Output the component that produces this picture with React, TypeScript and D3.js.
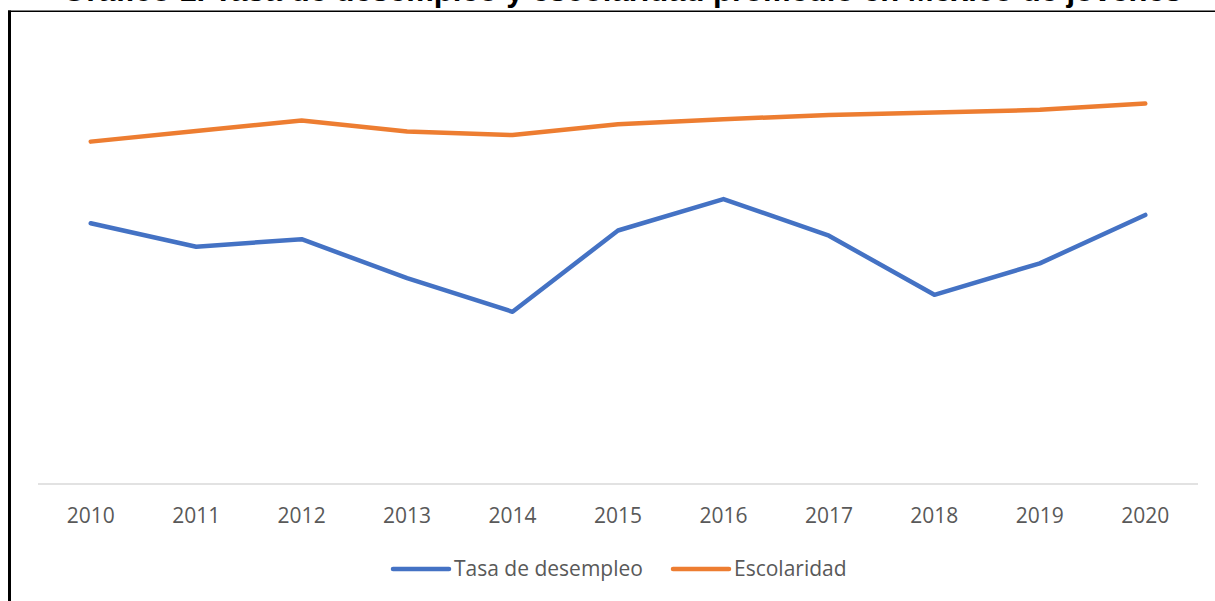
import React from "react";
import * as d3 from "d3";

const years = ["2010", "2011", "2012", "2013", "2014", "2015", "2016", "2017", "2018", "2019", "2020"];
const desempleo = [7.54, 6.86, 7.08, 5.95, 4.98, 7.33, 8.24, 7.18, 5.47, 6.38, 7.78];
const escolaridad = [9.9, 10.21, 10.51, 10.19, 10.09, 10.4, 10.55, 10.67, 10.74, 10.82, 11.0];
const seriesNames = ["Tasa de desempleo", "Escolaridad"];
const seriesColors = ["#4472C4", "#ED7D31"];
const titleText = "Gráfico 1. Tasa de desempleo y escolaridad promedio en México de jóvenes";

const W = 1215;
const H = 601;

export default function App() {
  const x = d3.scalePoint<string>().domain(years).range([38, 1198]).padding(0.5);
  const y = d3.scaleLinear().domain([0, 12]).range([484, 69]);
  const line = d3
    .line<number>()
    .x((_, i) => x(years[i]) as number)
    .y((d) => y(d));
  const series = [desempleo, escolaridad];
  const font = "'Open Sans', 'Liberation Sans', sans-serif";
  const legendX = [393, 673];
  return (
    <svg
      width={W}
      height={H}
      style={{ position: "fixed", left: 0, top: 0, background: "#fff" }}
      viewBox={`0 0 ${W} ${H}`}
    >
      <rect x={0} y={0} width={W} height={H} fill="#fff" />
      <text
        x={622}
        y={1}
        textAnchor="middle"
        fontFamily="'Liberation Sans', Arial, sans-serif"
        fontWeight="bold"
        fontSize={31}
        textLength={1120}
        lengthAdjust="spacingAndGlyphs"
        fill="#000"
      >
        {titleText}
      </text>
      <line x1={8} x2={W} y1={11.2} y2={11.2} stroke="#000" strokeWidth={1.4} />
      <line x1={9.5} x2={9.5} y1={10.5} y2={H} stroke="#000" strokeWidth={3} />
      <line x1={38} x2={1198} y1={484} y2={484} stroke="#d9d9d9" strokeWidth={1.5} />
      {years.map((yr) => (
        <text
          key={yr}
          x={x(yr)}
          y={523}
          textAnchor="middle"
          fontFamily={font}
          fontSize={21}
          fill="#595959"
        >
          {yr}
        </text>
      ))}
      {series.map((s, i) => (
        <path
          key={i}
          d={line(s) || ""}
          fill="none"
          stroke={seriesColors[i]}
          strokeWidth={4.5}
          strokeLinecap="round"
          strokeLinejoin="round"
        />
      ))}
      {seriesNames.map((n, i) => (
        <g key={n}>
          <line
            x1={legendX[i]}
            x2={legendX[i] + 56}
            y1={569}
            y2={569}
            stroke={seriesColors[i]}
            strokeWidth={4.5}
            strokeLinecap="round"
          />
          <text
            x={legendX[i] + 61}
            y={576}
            fontFamily={font}
            fontSize={21}
            fill="#595959"
          >
            {n}
          </text>
        </g>
      ))}
    </svg>
  );
}
